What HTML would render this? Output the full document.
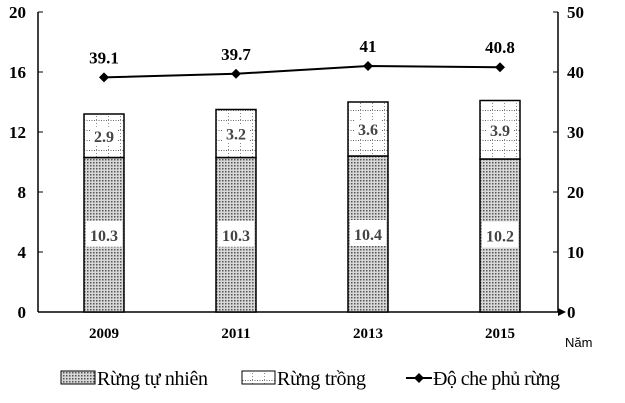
<!DOCTYPE html>
<html><head><meta charset="utf-8"><style>
body{margin:0;background:#fff}
svg{display:block;font-family:"Liberation Serif",serif}
</style></head><body>
<svg id="chart" width="625" height="403" viewBox="0 0 625 403">
<defs>
<pattern id="dots" width="3" height="3" patternUnits="userSpaceOnUse"><rect width="3" height="3" fill="#d8d8d8"/><rect width="1.5" height="1.5" fill="#555"/></pattern>
<pattern id="grid" width="12" height="10" patternUnits="userSpaceOnUse"><rect width="12" height="10" fill="#fff"/><line x1="0" y1="0.5" x2="12" y2="0.5" stroke="#666" stroke-dasharray="1,1.5"/><line x1="0.5" y1="0" x2="0.5" y2="10" stroke="#888" stroke-dasharray="1,2"/></pattern>
</defs>
<g id="axes"></g><g id="bars"></g><g id="line"></g><g id="legend"></g>
</svg>
<script>
const years=["2009","2011","2013","2015"];
const natural=[10.3,10.3,10.4,10.2];
const planted=[2.9,3.2,3.6,3.9];
const cover=[39.1,39.7,41,40.8];
const leftTicks=[0,4,8,12,16,20];
const rightTicks=[0,10,20,30,40,50];
const NS="http://www.w3.org/2000/svg";
const X0=38,X1=558,Y0=312,Y1=12;
const yL=v=>Y0-(v/20)*(Y0-Y1);
const yR=v=>Y0-(v/50)*(Y0-Y1);
const xC=i=>104+i*132;
function mk(tag,attrs,parent,txt){const e=document.createElementNS(NS,tag);for(const k in attrs)e.setAttribute(k,attrs[k]);if(txt!==undefined)e.textContent=txt;parent.appendChild(e);return e;}
const ax=document.getElementById('axes');
let e;
e=mk('line',{x1:X0,y1:Y1,x2:X0,y2:Y0,stroke:'#000','stroke-width':1.5},ax);

e=mk('line',{x1:X1,y1:Y1,x2:X1,y2:Y0,stroke:'#000','stroke-width':1.5},ax);

e=mk('line',{x1:X0,y1:Y0,x2:X1+2,y2:Y0,stroke:'#000','stroke-width':1.5},ax);

e=mk('polygon',{points:`${X1+8},${Y0} ${X1},${Y0-4} ${X1},${Y0+4}`,fill:'#000'},ax);

leftTicks.forEach(t=>{const y=yL(t);mk('line',{x1:X0,y1:y,x2:X0+5,y2:y,stroke:'#000'},ax);
e=mk('text',{x:X0-12,y:y+6,'text-anchor':'end','font-size':17,'font-weight':'bold'},ax,t);
});
rightTicks.forEach(t=>{const y=yR(t);mk('line',{x1:X1-5,y1:y,x2:X1,y2:y,stroke:'#000'},ax);
e=mk('text',{x:X1+9,y:y+6,'text-anchor':'start','font-size':17,'font-weight':'bold'},ax,t);
});
e=mk('text',{x:565,y:347,'font-size':13,'font-family':'Liberation Sans, sans-serif'},ax,'Năm');

const bg=document.getElementById('bars');const W=40;
years.forEach((yr,i)=>{const x=xC(i)-W/2;
const yn=yL(natural[i]),yt=yL(natural[i]+planted[i]);
e=mk('rect',{x:x,y:yn,width:W,height:Y0-yn,fill:'url(#dots)',stroke:'#000','stroke-width':1.5},bg);

e=mk('rect',{x:x,y:yt,width:W,height:yn-yt,fill:'url(#grid)',stroke:'#000','stroke-width':1.5},bg);

const ym=(yn+Y0)/2;
mk('rect',{x:x+2,y:ym-14,width:W-4,height:26,fill:'#fff'},bg);
e=mk('text',{x:xC(i),y:ym+6,'text-anchor':'middle','font-size':16,'font-weight':'bold',fill:'#444'},bg,natural[i]);

const yp=(yn+yt)/2;
mk('rect',{x:x+6,y:yp-9,width:W-12,height:18,fill:'#fff'},bg);
e=mk('text',{x:xC(i),y:yp+6,'text-anchor':'middle','font-size':16,'font-weight':'bold',fill:'#444'},bg,planted[i]);

e=mk('text',{x:xC(i),y:338,'text-anchor':'middle','font-size':15,'font-weight':'bold'},bg,yr);

});
const lg=document.getElementById('line');
e=mk('polyline',{points:cover.map((v,i)=>xC(i)+','+yR(v)).join(' '),fill:'none',stroke:'#000','stroke-width':2},lg);

cover.forEach((v,i)=>{const x=xC(i),y=yR(v);
e=mk('polygon',{points:`${x},${y-5} ${x+5},${y} ${x},${y+5} ${x-5},${y}`,fill:'#000'},lg);

e=mk('text',{x:x,y:y-14,'text-anchor':'middle','font-size':17,'font-weight':'bold'},lg,v);
});
const le=document.getElementById('legend');
e=mk('rect',{x:61,y:371,width:34,height:13,fill:'url(#dots)',stroke:'#000'},le);

e=mk('text',{x:97,y:385,'font-size':20,textLength:111},le,'Rừng tự nhiên');

e=mk('rect',{x:242,y:371,width:33,height:13,fill:'url(#grid)',stroke:'#000'},le);

e=mk('text',{x:277,y:385,'font-size':20,textLength:89},le,'Rừng trồng');

e=mk('line',{x1:406,y1:378,x2:432,y2:378,stroke:'#000','stroke-width':2},le);

mk('polygon',{points:'419,373 424,378 419,383 414,378',fill:'#000'},le);
e=mk('text',{x:433,y:385,'font-size':20,textLength:127},le,'Độ che phủ rừng');

</script>
</body></html>
